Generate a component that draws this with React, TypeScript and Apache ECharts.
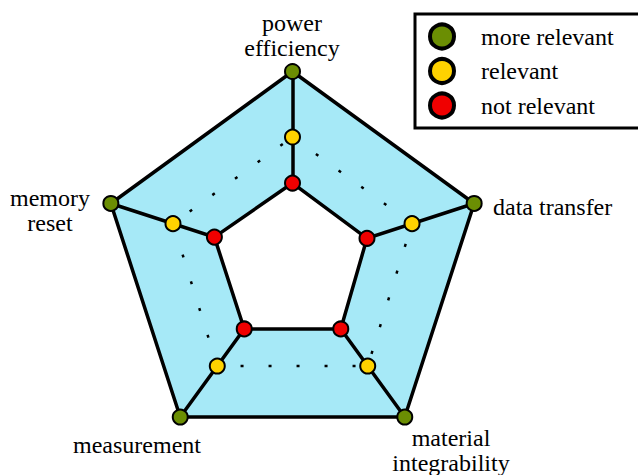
import React, { useEffect, useRef } from 'react';
import * as echarts from 'echarts';

// Indicators (counter-clockwise from the top, as ECharts places them)
const indicatorNames = ['power\nefficiency', 'memory\nreset', 'measurement', 'material\nintegrability', 'data transfer'];
const seriesNames = ['more relevant', 'relevant', 'not relevant'];
const moreRelevant = [1, 1, 1, 1, 1];
const relevant = [0.657, 0.658, 0.67, 0.67, 0.658];
const notRelevant = [0.416, 0.43, 0.43, 0.43, 0.41];

// layout constants
const CX = 292.5;
const CY = 262.5;
const R = 191;
const FONT = 'Liberation Serif';
const GREEN = '#6b8e03';
const YELLOW = '#ffd200';
const RED = '#f00000';
const CYAN = '#a6e9f7';

// label placement: [x, y, align]
const labelPlaces: [number, number, string][] = [
  [292, 35.5, 'center'],
  [50, 210, 'center'],
  [137, 445, 'center'],
  [451, 450.5, 'center'],
  [493, 207, 'left'],
];

export default function App() {
  const ref = useRef<HTMLDivElement>(null);
  useEffect(() => {
    const chart = echarts.init(ref.current!, null, { renderer: 'svg' });
    const sym = (color: string) => ({ color, borderColor: '#000', borderWidth: 2 });
    chart.setOption({
      animation: false,
      backgroundColor: '#ffffff',
      radar: {
        center: [CX, CY],
        radius: R,
        shape: 'polygon',
        startAngle: 90,
        z: 3,
        silent: true,
        indicator: indicatorNames.map((name) => ({ name, max: 1, min: 0 })),
        axisName: { show: false },
        splitLine: { show: false },
        splitArea: { show: false },
        axisTick: { show: false },
        axisLabel: { show: false },
        axisLine: { show: true, lineStyle: { color: '#000', width: 3.5 } },
      },
      legend: {
        data: seriesNames,
        orient: 'vertical',
        left: 415,
        top: 14,
        icon: 'circle',
        itemWidth: 24,
        itemHeight: 24,
        itemGap: 6.5,
        padding: [8.5, 200, 8.5, 13],
        backgroundColor: '#ffffff',
        borderColor: '#000',
        borderWidth: 3,
        borderRadius: 0,
        selectedMode: false,
        itemStyle: { borderColor: '#000', borderWidth: 4 },
        textStyle: { fontFamily: FONT, fontSize: 24, color: '#000', padding: [0, 0, 0, 22] },
      },
      graphic: indicatorNames.map((name, i) => ({
        type: 'text',
        silent: true,
        z: 10,
        style: {
          text: name,
          x: labelPlaces[i][0],
          y: labelPlaces[i][1],
          align: labelPlaces[i][2],
          verticalAlign: 'middle',
          fontFamily: FONT,
          fontSize: 24,
          lineHeight: 25,
          fill: '#000',
        },
      })),
      series: [
        {
          type: 'radar',
          name: 'band',
          z: 1,
          silent: true,
          symbol: 'none',
          lineStyle: { width: 0 },
          areaStyle: { color: CYAN, opacity: 1 },
          data: [{ value: moreRelevant }],
        },
        {
          type: 'radar',
          name: 'hole',
          z: 4,
          silent: true,
          symbol: 'none',
          lineStyle: { width: 0 },
          areaStyle: { color: '#ffffff', opacity: 1 },
          data: [{ value: notRelevant }],
        },
        {
          type: 'radar',
          name: seriesNames[0],
          z: 5,
          symbol: 'circle',
          symbolSize: 15,
          itemStyle: sym(GREEN),
          lineStyle: { color: '#000', width: 3.5 },
          data: [{ value: moreRelevant, name: seriesNames[0] }],
        },
        {
          type: 'radar',
          name: seriesNames[1],
          z: 5,
          symbol: 'circle',
          symbolSize: 15,
          itemStyle: sym(YELLOW),
          lineStyle: { color: '#000', width: 2.5, type: [3, 25], dashOffset: -12 },
          data: [{ value: relevant, name: seriesNames[1] }],
        },
        {
          type: 'radar',
          name: seriesNames[2],
          z: 6,
          symbol: 'circle',
          symbolSize: 15,
          itemStyle: sym(RED),
          lineStyle: { color: '#000', width: 3.5 },
          data: [{ value: notRelevant, name: seriesNames[2] }],
        },
      ],
    });
    return () => chart.dispose();
  }, []);
  return (
    <div
      ref={ref}
      style={{ position: 'fixed', left: 0, top: 0, width: 638, height: 475, background: '#fff' }}
    />
  );
}
